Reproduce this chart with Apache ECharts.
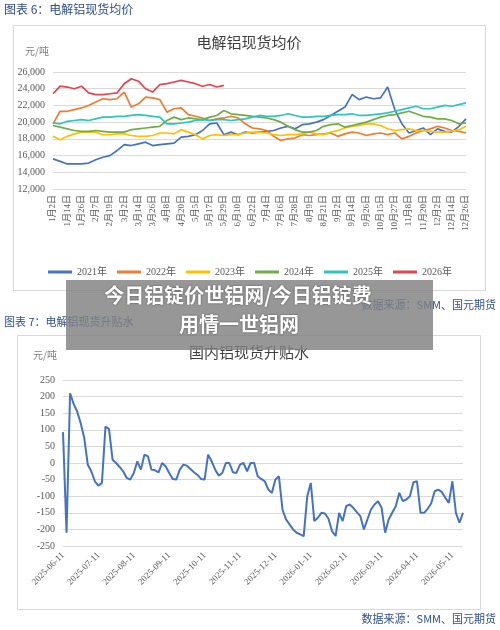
<!DOCTYPE html>
<html><head><meta charset="utf-8">
<script src="https://cdn.jsdelivr.net/npm/echarts@6/dist/echarts.min.js"></script>
<style>html,body{margin:0;padding:0;background:#fff}#c{width:500px;height:630px}</style>
</head><body><div id="c"></div>
<script>
const dateLabels=['1月2日','1月14日','1月26日','2月7日','2月19日','3月2日','3月14日','3月26日','4月8日','4月20日','5月5日','5月17日','5月29日','6月10日','6月22日','7月4日','7月16日','7月28日','8月9日','8月21日','9月2日','9月14日','9月26日','10月15日','10月27日','11月8日','11月20日','12月2日','12月14日','12月26日'];
const y2021=[15600,15300,15000,15000,15000,15100,15500,15800,16000,16600,17300,17200,17400,17600,17200,17300,17400,17500,18200,18300,18500,19000,19800,19900,18500,18800,18500,18800,18700,18800,18900,19000,19300,19500,19200,19700,19800,20000,20300,20800,21300,21800,23300,22700,23000,22800,22900,24200,21500,19800,18700,19000,19300,18500,19200,18900,18800,19500,20400];
const y2022=[19800,21300,21300,21500,21700,22000,22400,22800,22700,22800,23600,21800,22200,23000,22900,22700,21200,21600,21700,20900,20700,20500,20200,20400,20500,20700,20500,19800,19300,19200,19000,18300,17800,18000,18100,18500,18400,18500,18600,18700,18300,18600,18800,18700,18400,18600,18700,18500,18700,18000,18300,18700,19000,19200,19500,19300,19000,18900,18700];
const y2023=[18300,17900,18300,18600,18800,18800,18800,18500,18500,18600,18600,18400,18300,18300,18400,18700,18700,18600,19100,18800,18500,18000,18400,18500,18400,18500,18500,18700,18800,18800,18700,18500,18400,18500,18500,18600,18800,18600,18500,18800,19000,19300,19500,19600,19800,19800,19600,19200,19000,19100,19200,19000,19000,18900,18800,18800,18900,19100,19500];
const y2024=[19600,19400,19200,19000,18900,18900,19000,18900,18800,18800,18800,19100,19200,19300,19400,19500,20200,20600,20300,20500,20400,20300,20600,20800,21400,21000,20900,20800,20700,20600,20500,20300,20000,19500,19100,18800,18800,19000,19500,19700,19800,19400,19600,19800,20000,20300,20600,20800,20900,21100,21300,21000,20700,20600,20400,20400,20200,19800,19900];
const y2025=[19900,19800,20100,20200,20300,20200,20400,20600,20600,20700,20700,20800,20900,20800,20700,20600,19800,19800,19900,20000,20200,20300,20200,20300,20300,20200,20300,20400,20600,20800,20700,20700,20800,21000,20800,20600,20600,20700,20700,20800,20900,20900,21000,20800,20800,20900,21000,21100,21300,21500,21700,21900,21600,21600,21800,22000,21900,22100,22300];
const y2026=[23400,24300,24200,24000,24300,23500,23300,23300,23400,23500,24600,25200,24900,24000,23600,24500,24600,24800,25000,24800,24600,24300,24500,24200,24400];
const monthLabels=['2025-06-11','2025-07-11','2025-08-11','2025-09-11','2025-10-11','2025-11-11','2025-12-11','2026-01-11','2026-02-11','2026-03-11','2026-04-11','2026-05-11'];
const premium=[93,-210,210,178,155,120,75,-5,-25,-55,-68,-60,110,102,10,0,-12,-25,-45,-50,-30,5,-20,25,20,-20,-22,-28,0,-10,-30,-48,-50,-20,-5,-8,-18,-28,-36,-48,-50,25,5,-20,-38,-30,0,0,-28,-30,-5,0,-25,0,0,-40,-48,-55,-80,-90,-50,-40,-140,-170,-185,-200,-210,-215,-220,-100,-60,-175,-165,-150,-152,-168,-205,-220,-150,-175,-130,-125,-135,-148,-160,-200,-170,-140,-125,-115,-135,-210,-170,-150,-130,-90,-115,-110,-100,-58,-55,-150,-150,-138,-122,-85,-80,-87,-105,-120,-55,-150,-180,-150];

const cats1=[];dateLabels.forEach((d,i)=>{cats1.push(d);if(i<dateLabels.length-1)cats1.push('');});
const cats2=premium.map((v,i)=>{const m=Math.floor(i/10);return i%10===0?monthLabels[m]:monthLabels[m]+'#'+(i%10);});
const F='"Liberation Serif","Noto Sans CJK SC",serif';
const lab={color:'#595959',fontFamily:F,fontSize:10};
const colors=['#4472C4','#ED7D31','#FFC000','#70AD47','#2EC4C0','#E0464F'];
const names=['2021年','2022年','2023年','2024年','2025年','2026年'];
const ys=[y2021,y2022,y2023,y2024,y2025,y2026];
const series=ys.map((d,i)=>({name:names[i],type:'line',data:d,xAxisIndex:0,yAxisIndex:0,showSymbol:false,smooth:false,lineStyle:{width:1.7,color:colors[i]},itemStyle:{color:colors[i]}}));
series.push({type:'line',data:premium,xAxisIndex:1,yAxisIndex:1,showSymbol:false,lineStyle:{width:2,color:'#4472C4'}});
const chart=echarts.init(document.getElementById('c'));
chart.setOption({
animation:false,
grid:[{left:53,right:34,top:72,height:117},{left:63,right:37,top:380,height:166}],
legend:{data:names,top:262,left:'center',icon:'rect',itemWidth:24,itemHeight:3,itemGap:10,textStyle:{color:'#595959',fontFamily:F,fontSize:10}},
xAxis:[{type:'category',gridIndex:0,data:cats1,boundaryGap:false,axisLine:{show:false},axisTick:{show:false},axisLabel:Object.assign({},lab,{rotate:90,interval:0,fontSize:9,margin:6})},
{type:'category',gridIndex:1,data:cats2,boundaryGap:false,axisLine:{show:false},axisTick:{show:false},axisLabel:Object.assign({},lab,{rotate:45,fontSize:9,margin:8,interval:(i)=>i%10===0,formatter:v=>v.indexOf('#')>=0?'':v})}],
yAxis:[{type:'value',gridIndex:0,min:12000,max:26000,interval:2000,axisLine:{show:false},axisTick:{show:false},splitLine:{lineStyle:{color:'#d9d9d9'}},axisLabel:Object.assign({},lab,{margin:8})},
{type:'value',gridIndex:1,min:-250,max:250,interval:50,axisLine:{show:false},axisTick:{show:false},splitLine:{lineStyle:{color:'#d9d9d9'}},axisLabel:Object.assign({},lab,{margin:8})}],
series:series,
graphic:[
{type:'text',left:4,top:3,style:{text:'图表 6：电解铝现货均价',fill:'#2E4F8F',font:'12px "Noto Sans CJK SC"'}},
{type:'rect',shape:{x:13.5,y:25.5,width:472,height:265},style:{fill:'none',stroke:'#d9d9d9',lineWidth:1}},
{type:'text',x:249,y:35,style:{text:'电解铝现货均价',fill:'#404040',font:'15px "Noto Sans CJK SC"',textAlign:'center'}},
{type:'text',x:25,y:46,style:{text:'元/吨',fill:'#7f7f7f',font:'10px "Noto Sans CJK SC"'}},
{type:'text',x:496,y:299,style:{text:'数据来源：SMM、国元期货',fill:'#2E4F8F',font:'11px "Noto Sans CJK SC"',textAlign:'right'}},
{type:'text',left:4,top:316,style:{text:'图表 7：电解铝现货升贴水',fill:'#2E4F8F',font:'11px "Noto Sans CJK SC"'}},
{type:'rect',shape:{x:17.5,y:335.5,width:463,height:274},style:{fill:'none',stroke:'#d9d9d9',lineWidth:1}},
{type:'text',x:249,y:345,style:{text:'国内铝现货升贴水',fill:'#404040',font:'15px "Noto Sans CJK SC"',textAlign:'center'}},
{type:'text',x:33,y:350,style:{text:'元/吨',fill:'#7f7f7f',font:'10px "Noto Sans CJK SC"'}},
{type:'text',x:496,y:613,style:{text:'数据来源：SMM、国元期货',fill:'#2E4F8F',font:'11px "Noto Sans CJK SC"',textAlign:'right'}},
{type:'rect',z:100,shape:{x:66,y:280,width:367,height:70},style:{fill:'rgba(128,128,128,0.82)'}},
{type:'text',z:101,x:238,y:285,style:{text:'今日铝锭价世铝网/今日铝锭费',fill:'#fff',font:'bold 20px "Noto Sans CJK SC"',textAlign:'center',textShadowColor:'rgba(0,0,0,0.5)',textShadowBlur:2}},
{type:'text',z:101,x:239,y:314,style:{text:'用情一世铝网',fill:'#fff',font:'bold 20px "Noto Sans CJK SC"',textAlign:'center',textShadowColor:'rgba(0,0,0,0.5)',textShadowBlur:2}}
]
});
</script></body></html>
